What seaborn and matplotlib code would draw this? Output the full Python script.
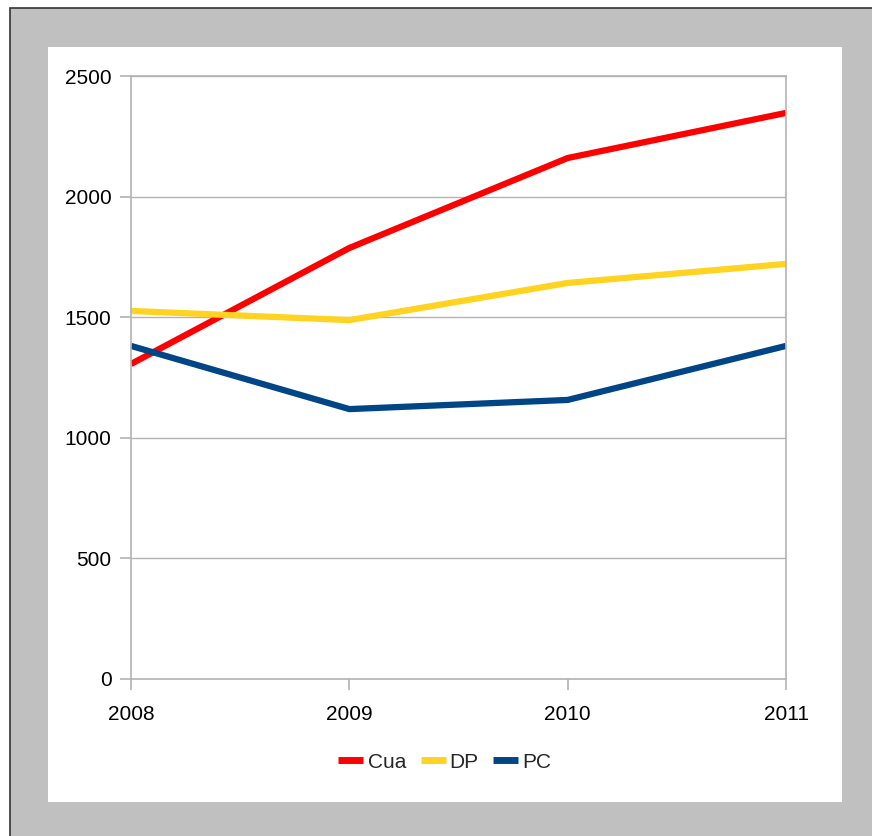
import pandas as pd
import matplotlib
matplotlib.use("Agg")
import matplotlib.pyplot as plt
import seaborn as sns
from matplotlib.patches import Rectangle

years = [2008, 2009, 2010, 2011]
cua = [1306, 1787, 2160, 2347]
dp = [1526, 1488, 1642, 1721]
pc = [1381, 1119, 1157, 1381]
series = ["Cua", "DP", "PC"]
yticks = [0, 500, 1000, 1500, 2000, 2500]

df = pd.DataFrame({
    "year": years * 3,
    "value": cua + dp + pc,
    "series": [s for s in series for _ in years],
})

sns.set_style("white")
plt.rcParams["font.family"] = ["Liberation Sans", "DejaVu Sans"]

grey = "#b3b3b3"
colors = {"Cua": "#ff0000", "DP": "#ffd320", "PC": "#004586"}

fig = plt.figure(figsize=(8.72, 8.36), dpi=100)
fig.patch.set_facecolor("white")
W, H = 872, 836
# outer grey frame (runs off the right/bottom edge) and inner white panel
fig.patches.append(Rectangle((10 / W, -0.05), 1, 1.05 - 8 / H, transform=fig.transFigure,
                             facecolor="#c0c0c0", edgecolor="#333333", linewidth=1.2, zorder=-2))
fig.patches.append(Rectangle((48 / W, 1 - 802 / H), (842 - 48) / W, (802 - 47) / H,
                             transform=fig.transFigure, facecolor="white", edgecolor="none", zorder=-1))

ax = fig.add_axes([131 / W, 1 - 679 / H, (786 - 131) / W, (679 - 76) / H])
ax.set_facecolor("none")

sns.lineplot(data=df, x="year", y="value", hue="series", palette=colors,
             linewidth=4.5, ax=ax, legend=True)
for line in ax.lines:
    line.set_solid_capstyle("butt")

ax.set_xlim(2008, 2011)
ax.set_ylim(0, 2500)
ax.set_xticks(years)
ax.set_yticks(yticks)
ax.set_xlabel("")
ax.set_ylabel("")
ax.yaxis.grid(True, color=grey, linewidth=1)
ax.set_axisbelow(True)
for s in ax.spines.values():
    s.set_color(grey)
    s.set_linewidth(1.2)
ax.tick_params(axis="both", colors=grey, labelcolor="black", labelsize=15,
               length=8, width=1.2, direction="out")
ax.tick_params(axis="x", pad=11)
ax.tick_params(axis="y", pad=6)
ax.tick_params(bottom=True, left=True)

handles, labels = ax.get_legend_handles_labels()
leg = ax.legend(handles, labels, loc="center", bbox_to_anchor=(445 / W, 1 - 762 / H),
                bbox_transform=fig.transFigure, ncol=3, frameon=False, fontsize=15,
                handlelength=1.2, handletextpad=0.2, columnspacing=0.7)
for h in leg.get_lines():
    h.set_linewidth(5)
    h.set_solid_capstyle("butt")

fig.savefig("out.png", dpi=100)
